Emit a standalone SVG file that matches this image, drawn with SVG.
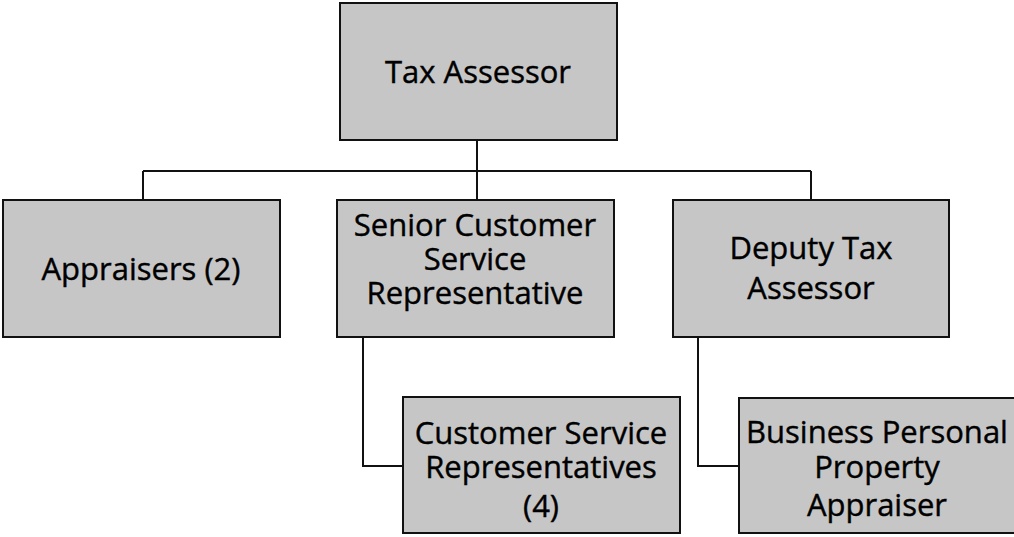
<svg xmlns="http://www.w3.org/2000/svg" width="1014" height="537" viewBox="0 0 1014 537">
<style>
.box{fill:#c6c6c6;stroke:#111;stroke-width:2}
.t{font-family:"Open Sans","Liberation Sans",sans-serif;font-size:31px;fill:#000;text-anchor:middle;stroke:#000;stroke-width:0.4}
.c{fill:none;stroke:#111;stroke-width:2}
</style>
<rect width="1014" height="537" fill="#fff"/>
<g id="connectors">
<path class="c" d="M477 140V200M143 171H811M143 171V200M811 171V200"/>
<path class="c" d="M363 337V466H403"/>
<path class="c" d="M698 337V466H739"/>
</g>
<g id="tax-assessor">
<rect class="box" x="340" y="3" width="277" height="137"/>
<text class="t" x="478" y="83">Tax Assessor</text>
</g>
<g id="appraisers">
<rect class="box" x="3" y="200" width="277" height="137"/>
<text class="t" x="141" y="280">Appraisers (2)</text>
</g>
<g id="senior-csr">
<rect class="box" x="337" y="200" width="277" height="137"/>
<text class="t" x="475" y="236">Senior Customer</text>
<text class="t" x="475" y="270">Service</text>
<text class="t" x="475" y="304">Representative</text>
</g>
<g id="deputy">
<rect class="box" x="673" y="200" width="276" height="137"/>
<text class="t" x="811" y="259">Deputy Tax</text>
<text class="t" x="811" y="299">Assessor</text>
</g>
<g id="csr">
<rect class="box" x="403" y="397" width="277" height="136"/>
<text class="t" x="541" y="444">Customer Service</text>
<text class="t" x="541" y="478">Representatives</text>
<text class="t" x="541" y="517">(4)</text>
</g>
<g id="bppa">
<rect class="box" x="739" y="398" width="276" height="135"/>
<text class="t" x="877" y="443">Business Personal</text>
<text class="t" x="877" y="478">Property</text>
<text class="t" x="877" y="516">Appraiser</text>
</g>
</svg>
